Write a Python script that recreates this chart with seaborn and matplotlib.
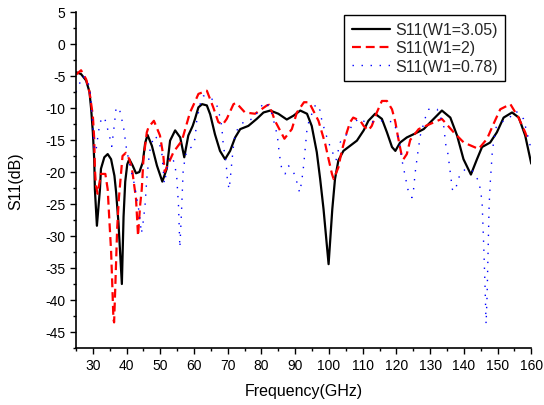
import matplotlib
matplotlib.use("Agg")
import matplotlib.pyplot as plt
from matplotlib.ticker import MultipleLocator
import seaborn as sns
import pandas as pd

# ---- data ----
f_305 = [25, 26.5, 28, 29, 29.5, 30, 30.4, 30.6, 31.2, 32.1, 32.4, 33.4, 34.4, 35.4, 36.4, 36.9,
         37.6, 38.6, 39.1, 39.6, 40.2, 40.8, 41.8, 42.8, 43.8, 44.8, 45.5, 46.2, 47.5, 49, 50.6,
         51.9, 52.9, 54.4, 55.9, 57.1, 58.3, 59.6, 60.3, 61.3, 62.4, 63.8, 64.8, 66.2, 67.7, 69.2,
         70.7, 72.2, 73.7, 76.1, 78.6, 80.6, 82.6, 85, 87.5, 89.5, 91.5, 93.5, 94.9, 96.4, 97.4,
         98.4, 99.9, 101, 101.8, 102.8, 104.3, 106.3, 108.3, 110.3, 111.7, 113.7, 115.7, 117.2,
         118.7, 119.7, 121.1, 123.1, 125.5, 128.1, 130.5, 133.5, 136, 138, 139.9, 142.1, 143.9,
         145.4, 147.8, 149.8, 151.8, 154.3, 156.3, 158.2, 160]
s_305 = [-4.4, -4.7, -5.7, -7.5, -10.2, -13.8, -18, -22.7, -28.4, -22.7, -19.5, -17.7, -17.2, -18,
         -20.6, -23.2, -28, -37.5, -27, -21.5, -18.8, -18.0, -19, -20.2, -20, -18.5, -15.5, -14.2,
         -15.9, -19, -21.5, -19.5, -15.1, -13.5, -14.6, -17.7, -14.3, -12.8, -11.7, -9.9, -9.4,
         -9.6, -11, -14.1, -16.7, -18, -16.7, -14.6, -13.3, -12.8, -11.7, -10.7, -10.4, -10.9,
         -11.8, -11.2, -10.4, -10.9, -12.8, -16.9, -21.1, -25.8, -34.4, -25.8, -21.1, -18.2,
         -16.7, -15.9, -15.1, -13.5, -12, -10.9, -11.7, -13.8, -16.1, -16.7, -15.4, -14.6, -14.0,
         -13.3, -12, -10.4, -11.5, -14.3, -18, -20.4, -18, -16.1, -15.4, -13.8, -11.5, -10.7,
         -11.5, -14.3, -18.7]

f_2 = [25, 26.5, 28, 29, 30, 30.4, 30.6, 30.9, 31.4, 32.4, 33.7, 34.4, 34.9, 35.4, 35.7, 36.1,
       36.3, 36.7, 37.2, 37.7, 38.8, 39.8, 40.8, 41.6, 42.8, 43.4, 44, 44.5, 45, 46, 46.5, 48.1,
       49.9, 50.9, 51.3, 53.9, 56.4, 58.8, 60.3, 61.3, 63.8, 65.7, 67.2, 68.5, 69.7, 71.7, 72.5,
       75.1, 78.1, 81.6, 82.3, 84, 86.8, 89, 90.5, 92.6, 94.1, 96.9, 97.9, 98.9, 99.9, 100.9,
       101.4, 102.8, 103.8, 105.3, 106.3, 107.2, 109.3, 110.3, 111.7, 112.7, 114.2, 115.7, 117.2,
       118.7, 119.7, 120.4, 121.6, 122.1, 123.1, 124.1, 126.6, 130, 133.5, 137, 140, 144.4,
       146.9, 148.8, 150.8, 153.8, 156.2, 158.2, 159]
s_2 = [-4.8, -4.1, -5.5, -7.5, -11.2, -14.8, -19.5, -22.1, -23.4, -20.3, -20.3, -22.7, -27.6,
       -32.3, -36.7, -43, -43.5, -37.2, -28.9, -24.2, -17.5, -17, -18, -19.5, -24.2, -30, -25.3,
       -22.7, -18, -13.8, -13, -12, -14.3, -17.5, -20.0, -16.9, -15.1, -10.7, -9, -7.8, -7.3,
       -9.9, -12.2, -12.6, -11.7, -9.4, -9.2, -10.7, -10.9, -9.6, -9.5, -12, -14.8, -13.3, -10.7,
       -9.1, -9.1, -12, -13.8, -15.6, -18, -20.3, -21.1, -19.3, -16.7, -13.8, -12.2, -11.5, -12,
       -12.8, -13.5, -12.8, -10.7, -8.9, -8.9, -10.2, -12.2, -14.3, -17.5, -18, -17.2, -15,
       -13.3, -12.5, -11.7, -13.8, -15.4, -16.4, -14.8, -12.5, -10.2, -9.4, -11.5, -13.8, -15]

f_078 = [25, 26, 27, 28.5, 29.3, 30, 30.4, 30.9, 31.4, 32.1, 33.4, 34.9, 35.6, 36.4, 36.9, 37.9,
         39.1, 40, 41, 42.3, 43, 43.8, 44.4, 45, 45.5, 46, 46.8, 47.5, 48.4, 49.4, 50.4, 51.2, 52,
         53, 54.2, 54.9, 55.4, 55.8, 56.3, 56.8, 57.8, 59.5, 60.3, 60.8, 61.8, 62.8, 64.3, 66.2,
         67.2, 68.2, 68.7, 69.5, 69.9, 70.4, 70.7, 71.2, 71.7, 72.2, 73.2, 75.1, 77.6, 79.1, 80.8,
         81.8, 83.1, 84, 84.7, 85.3, 86, 87, 88, 89.5, 90.5, 91.3, 91.9, 92.5, 93, 93.5, 94.1,
         96.1, 97.4, 97.9, 99.4, 100.4, 102.1, 103.3, 105.3, 106.8, 108.8, 110.8, 112.7, 114.2,
         116.7, 119.2, 120.2, 121, 121.6, 122.6, 123.4, 124.6, 125.1, 125.6, 126.3, 127.1, 128.6,
         129.6, 132.1, 133.3, 134.1, 134.6, 135.3, 135.9, 136.6, 137.4, 138.1, 138.9, 140.6,
         142.5, 144.5, 145.4, 145.9, 146.3, 146.6, 146.9, 147.2, 147.5, 147.8, 148.4, 148.8,
         149.6, 151.8, 154.3, 155.5, 157.7, 159.2, 159.7]
s_078 = [-7.5, -6.25, -5, -5.7, -8, -12.8, -16.4, -16.8, -14.8, -12.2, -11.4, -14.3, -16, -12.5,
         -9.9, -10.2, -13, -16.5, -19, -21.9, -24, -26.5, -29.6, -27.5, -25, -21, -16.9, -15.4,
         -14.3, -15.1, -16.7, -21.8, -19.5, -17.5, -18.5, -21, -25.3, -31.8, -26, -19.5, -16.7,
         -16, -14.8, -12, -9.4, -8.1, -8.3, -8.9, -10.2, -12.8, -15.9, -18.5, -21.3, -22.7,
         -21.3, -18.5, -15.9, -14.1, -13, -12, -11.7, -10.4, -9.1, -9.5, -10.9, -12.8, -14.3,
         -17.2, -19.5, -20.3, -19, -20, -21.6, -23.2, -21.6, -19, -16.1, -13.3, -12, -9.4, -10.4,
         -12, -14.6, -16.1, -18.2, -15.4, -14.1, -12.8, -11.6, -12.2, -12.2, -12, -12, -12.2,
         -13.8, -15.6, -18, -20.6, -22.7, -24, -22.7, -20, -17.2, -14.3, -11.5, -10.2, -10.2,
         -11.7, -13, -15.6, -17.2, -19.8, -22.7, -23, -21.6, -20.3, -19.5, -19.8, -21.5, -24.5,
         -31.5, -38, -43.75, -39.3, -32, -25.3, -22, -17.2, -15.4, -13, -12, -11.2, -10.5, -11.7,
         -14.8, -15.9]

labels = ["S11(W1=3.05)", "S11(W1=2)", "S11(W1=0.78)"]
x_ticks = list(range(30, 161, 10))
y_ticks = list(range(-45, 6, 5))

# ---- plotting ----
sns.set_theme(style="ticks")
plt.rcParams["font.family"] = ["Liberation Sans", "DejaVu Sans"]
plt.rcParams["axes.unicode_minus"] = False

fig = plt.figure(figsize=(5.44, 4.06), dpi=100)
ax = fig.add_axes([0.1397, 0.1404, 0.8369, 0.8276])

df1 = pd.DataFrame({"f": f_305, "s": s_305})
df2 = pd.DataFrame({"f": f_2, "s": s_2})
df3 = pd.DataFrame({"f": f_078, "s": s_078})

sns.lineplot(data=df1, x="f", y="s", ax=ax, color="black", linewidth=1.6,
             label=labels[0], sort=False)
sns.lineplot(data=df2, x="f", y="s", ax=ax, color="#ff0000", linewidth=1.6,
             linestyle=(0, (4, 2.2)), label=labels[1], sort=False)
sns.lineplot(data=df3, x="f", y="s", ax=ax, color="#0000ff", linewidth=1.0,
             linestyle=(0, (1, 5.5)), label=labels[2], sort=False)

ax.set_xlim(25, 160)
ax.set_ylim(-47.5, 5)
ax.set_xticks(x_ticks)
ax.set_yticks(y_ticks)
ax.xaxis.set_minor_locator(MultipleLocator(5))
ax.yaxis.set_minor_locator(MultipleLocator(2.5))
ax.tick_params(which="major", direction="out", length=4.5, width=1, color="black",
               labelsize=10, labelcolor="black", pad=3)
ax.tick_params(which="minor", direction="out", length=2.5, width=1, color="black")

for side in ["top", "right"]:
    ax.spines[side].set_visible(False)
for side in ["left", "bottom"]:
    ax.spines[side].set_color("black")
    ax.spines[side].set_linewidth(1.2)

ax.set_xlabel("Frequency(GHz)", fontsize=11.5, color="black")
ax.set_ylabel("S11(dB)", fontsize=11.5, color="black")
ax.xaxis.set_label_coords(0.5, -0.105)
ax.yaxis.set_label_coords(-0.115, 0.5)

leg = ax.legend(loc="upper right", bbox_to_anchor=(0.943, 0.991), borderaxespad=0,
                fontsize=11.5, frameon=True, fancybox=False, handlelength=2.4,
                handletextpad=0.35, labelspacing=0.2, borderpad=0.45)
leg.get_frame().set_edgecolor("black")
leg.get_frame().set_linewidth(1.0)
leg.get_frame().set_facecolor("white")
leg.get_frame().set_alpha(1)

fig.savefig("out.png", dpi=100)
